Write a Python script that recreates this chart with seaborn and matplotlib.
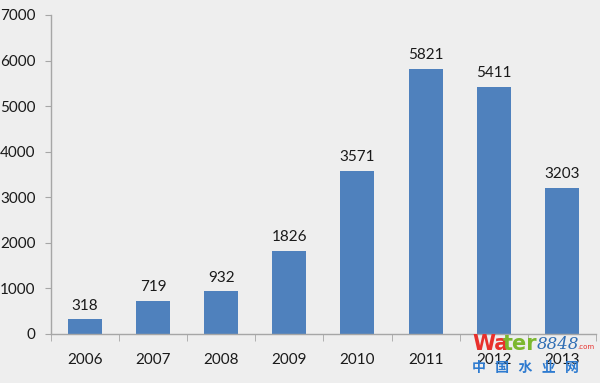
import matplotlib
matplotlib.use("Agg")
import matplotlib.pyplot as plt
import seaborn as sns
import pandas as pd
from matplotlib.ticker import FixedLocator

# data
years = ["2006", "2007", "2008", "2009", "2010", "2011", "2012", "2013"]
values = [318, 719, 932, 1826, 3571, 5821, 5411, 3203]
yticks = [0, 1000, 2000, 3000, 4000, 5000, 6000, 7000]

bg = "#EEEEEE"
axis_col = "#A6A6A6"
bar_col = "#4F81BD"

sns.set_style("white")
plt.rcParams["font.family"] = ["Lato", "Noto Sans CJK SC", "DejaVu Sans"]

df = pd.DataFrame({"year": years, "value": values})

fig = plt.figure(figsize=(6, 3.83), dpi=100, facecolor=bg)
ax = fig.add_axes([0.085, 0.128, 0.908, 0.833])
ax.set_facecolor(bg)

sns.barplot(data=df, x="year", y="value", color=bar_col, width=0.5,
            saturation=1, linewidth=0, ax=ax)

ax.bar_label(ax.containers[0], labels=[str(v) for v in values],
             padding=5, fontsize=11, color="#1A1A1A")

ax.set_xlim(-0.5, len(years) - 0.5)
ax.set_ylim(0, 7000)
ax.set_yticks(yticks)
ax.set_xlabel("")
ax.set_ylabel("")

for s in ["top", "right"]:
    ax.spines[s].set_visible(False)
for s in ["left", "bottom"]:
    ax.spines[s].set_color(axis_col)
    ax.spines[s].set_linewidth(1)

ax.xaxis.set_minor_locator(FixedLocator([i - 0.5 for i in range(len(years) + 1)]))
ax.tick_params(axis="x", which="major", length=0, pad=14, labelsize=11,
               labelcolor="#1A1A1A")
ax.tick_params(axis="x", which="minor", length=5, color=axis_col, direction="out",
               bottom=True)
ax.tick_params(axis="y", length=4, color=axis_col, direction="out", pad=7,
               labelsize=11, labelcolor="#1A1A1A", left=True)

# watermark
fig.text(0.787, 0.085, "Wa", color="#E8302C", fontsize=15, fontweight="bold",
         family=["DejaVu Sans"])
fig.text(0.838, 0.085, "ter", color="#7CB82F", fontsize=15, fontweight="bold",
         family=["DejaVu Sans"])
fig.text(0.895, 0.088, "8848", color="#2E6DB4", fontsize=12, style="italic",
         family=["DejaVu Serif"])
fig.text(0.962, 0.09, ".com", color="#E8302C", fontsize=5, family=["DejaVu Sans"])
fig.text(0.787, 0.028, "中   国   水   业   网", color="#2E7BD0", fontsize=10,
         fontweight="bold", family=["Noto Sans CJK SC"])

fig.savefig("out.png", dpi=100, facecolor=bg)
